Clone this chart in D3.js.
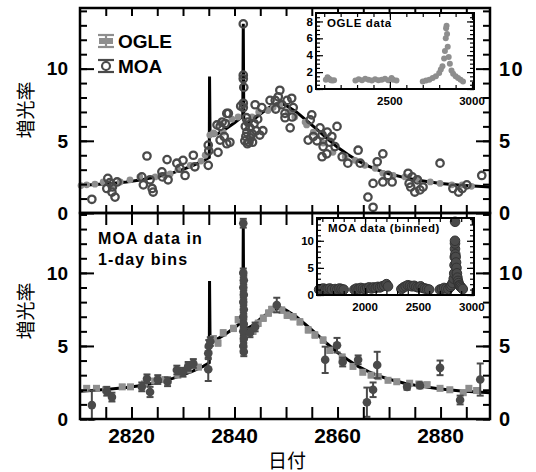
<!DOCTYPE html>
<html>
<head>
<meta charset="utf-8">
<script src="https://cdn.jsdelivr.net/npm/d3@7"></script>
<style>
  body { margin: 0; background: #fff; }
  svg text { font-family: "Liberation Sans", Arial, sans-serif; }
</style>
</head>
<body>
<div id="chart"></div>
<script>
// model light curve (day, magnification)
const model = [
  [2810, 1.9], [2813, 1.97], [2816, 2.05], [2819, 2.15], [2822, 2.3], [2825, 2.5], [2828, 2.78],
  [2830, 3.02], [2832, 3.3], [2834, 3.62], [2835.1, 3.85], [2835.15, 9.45], [2835.25, 5.4],
  [2836, 5.35], [2838, 5.75], [2840, 6.25], [2841.6, 6.7], [2841.7, 13.1], [2841.8, 6.4],
  [2842.5, 6.2], [2843.5, 6.4], [2845, 6.85], [2846.5, 7.25], [2848, 7.55], [2849, 7.6],
  [2850, 7.45], [2852, 7.0], [2854, 6.4], [2856, 5.8], [2858, 5.15], [2860, 4.55], [2862, 4.05],
  [2864, 3.6], [2866, 3.25], [2868, 2.95], [2870, 2.72], [2873, 2.45], [2876, 2.25], [2880, 2.05],
  [2884, 1.92], [2889.6, 1.8]
];

// OGLE points, upper panel [day, mag, err]
const ogleTop = [
  [2810.2, 1.9, 0.1], [2811.3, 1.95, 0.1], [2812.9, 2.0, 0.1], [2814.5, 2.15, 0.1], [2816.3, 1.9, 0.1],
  [2817.8, 2.15, 0.1], [2819.7, 2.3, 0.1], [2821.6, 2.5, 0.1], [2824.6, 2.5, 0.1], [2826.5, 2.6, 0.1],
  [2827.5, 2.7, 0.1], [2829, 3.0, 0.1], [2831.4, 3.3, 0.1], [2833.5, 3.6, 0.1], [2834.3, 4.0, 0.15],
  [2835.2, 5.4, 0.15], [2835.9, 5.55, 0.15], [2836.1, 5.5, 0.15], [2837.2, 6.2, 0.15], [2837.8, 5.6, 0.15],
  [2839.5, 6.5, 0.15], [2840.7, 6.65, 0.15], [2843.4, 6.65, 0.15], [2844.7, 7.0, 0.15], [2846.5, 7.1, 0.15],
  [2847.5, 7.3, 0.15], [2848.8, 7.5, 0.15], [2850.4, 7.0, 0.15], [2851.7, 6.65, 0.15], [2853.7, 6.3, 0.15],
  [2854, 6.1, 0.15], [2855.3, 5.6, 0.15], [2857.2, 4.85, 0.15], [2859.1, 4.2, 0.1], [2861.5, 3.9, 0.1],
  [2863.4, 3.65, 0.1], [2865.3, 3.3, 0.1], [2867.3, 3.1, 0.1], [2868.8, 2.75, 0.1], [2870.8, 2.6, 0.1],
  [2873.1, 2.5, 0.1], [2875.4, 2.4, 0.1], [2878, 2.15, 0.1], [2879.9, 2.05, 0.1], [2882.2, 1.95, 0.1],
  [2884.2, 1.95, 0.1], [2886, 1.85, 0.1]
];

// MOA points, upper panel [day, mag]
const moaTop = [
  [2812.3, 0.95], [2815.4, 2.4], [2815.2, 1.7], [2816.2, 1.45], [2816.8, 1.1], [2817.2, 2.15], [2816.3, 1.8], [2815.8, 2.1],
  [2822, 2.5], [2822.3, 1.95], [2824, 1.7], [2824.2, 1.45], [2823, 3.95], [2823.6, 2.3],
  [2825.9, 2.85], [2826.9, 3.7], [2826, 2.5], [2827.1, 2.3], [2828.8, 3.45], [2830, 3.65], [2830.4, 2.6],
  [2829.4, 3.1], [2832, 4.0], [2832.3, 3.2], [2834.9, 3.3], [2834.9, 4.7], [2835, 4.3],
  [2836.8, 4.2], [2837.2, 6.0], [2838.2, 6.2], [2838.5, 6.9], [2836.6, 6.1], [2838.5, 4.8], [2838, 5.3],
  [2837.6, 6.3], [2839.1, 4.9], [2837.2, 5.05], [2838.8, 6.9], [2841.2, 7.4],
  [2841.7, 13.1], [2841.7, 9.55], [2841.7, 9.3], [2841.8, 8.7], [2841.7, 7.6], [2841.7, 7.3],
  [2842, 5.0], [2842.2, 5.3], [2842.4, 5.6], [2842.1, 6.0], [2842.6, 6.3], [2842.3, 6.6], [2842.8, 4.9],
  [2843.1, 5.2], [2843.4, 5.5], [2843, 5.9], [2843.8, 6.2], [2844.2, 5.7], [2844.5, 6.5], [2844.9, 5.4],
  [2842.5, 4.8], [2843.5, 4.9],
  [2844, 7.5], [2845.3, 7.3], [2845.5, 5.7], [2848.8, 8.5], [2847.9, 7.8], [2850.2, 7.8], [2851.1, 7.95],
  [2849.8, 6.6], [2850.8, 5.9], [2851.4, 7.3], [2846.9, 7.8], [2848.5, 8.05], [2849.8, 6.9], [2851.2, 6.65],
  [2848, 7.2], [2849.2, 7.5],
  [2854.7, 6.45], [2855.3, 5.3], [2854.3, 5.05], [2855, 6.8], [2856.6, 5.9], [2857, 5.4], [2859.9, 6.0],
  [2858.9, 5.3], [2858.5, 4.9], [2859.5, 4.6], [2857.2, 4.6], [2857.9, 4.1], [2857, 3.9], [2860.9, 3.9],
  [2856, 5.0], [2858, 5.6],
  [2864, 4.35], [2868.8, 4.1], [2867.7, 3.55], [2864.4, 3.45], [2862, 3.45], [2866.9, 2.05], [2868.8, 2.15],
  [2865.9, 1.1], [2866.9, 0.4], [2870.6, 2.15], [2869.8, 2.6],
  [2873.7, 2.75], [2873.9, 2.05], [2875, 1.45], [2876.6, 1.8], [2874.5, 2.5], [2875.5, 2.3], [2876, 1.6], [2874.2, 1.8],
  [2879.9, 3.45], [2882.4, 1.7], [2884.2, 1.7], [2883.5, 1.45], [2885.1, 1.95], [2888, 2.6]
];

// OGLE points, lower panel [day, mag, err]
const ogleBot = [
  [2811.3, 2.1, 0.15], [2813.2, 2.1, 0.15], [2815, 2.0, 0.15], [2818.2, 2.2, 0.15], [2819.8, 2.2, 0.15],
  [2822.5, 2.4, 0.15], [2824.5, 2.6, 0.15], [2826.5, 2.7, 0.15], [2829, 3.0, 0.15], [2831, 3.35, 0.15],
  [2833, 3.55, 0.15], [2835.9, 5.5, 0.2], [2836.8, 5.2, 0.2], [2837.8, 5.9, 0.2], [2839.8, 6.2, 0.2],
  [2840.7, 6.8, 0.2], [2843.6, 6.0, 0.2], [2844.6, 6.55, 0.2], [2845.6, 6.9, 0.2], [2846.6, 7.25, 0.2],
  [2847.2, 7.5, 0.2], [2849.2, 7.45, 0.2], [2850.2, 7.1, 0.2], [2851.4, 7.0, 0.2], [2852.7, 6.65, 0.2],
  [2854.3, 6.1, 0.2], [2855.6, 5.75, 0.2], [2857.2, 5.4, 0.2], [2858.5, 4.7, 0.2], [2860.9, 4.25, 0.15],
  [2863, 3.6, 0.15], [2864.9, 3.2, 0.15], [2866.5, 3.0, 0.15], [2867.9, 2.9, 0.15], [2869.8, 2.65, 0.15],
  [2871.5, 2.55, 0.15], [2874, 2.45, 0.15], [2875.8, 2.4, 0.15], [2877.4, 2.35, 0.15], [2879.9, 2.1, 0.15],
  [2881.8, 2.0, 0.15], [2884.4, 1.8, 0.15], [2885.5, 2.1, 0.15], [2887, 1.95, 0.15]
];

// MOA 1-day bins, lower panel [day, mag, err]
const moaBot = [
  [2812.3, 0.95, 1.0], [2815.2, 1.9, 0.3], [2816.2, 1.5, 0.3], [2822, 2.2, 0.3], [2823, 2.75, 0.3],
  [2823.6, 1.85, 0.35], [2825.1, 2.7, 0.3], [2827, 2.55, 0.3], [2828.8, 3.35, 0.3], [2830, 3.2, 0.3],
  [2831, 3.6, 0.3], [2832, 3.8, 0.3], [2834.9, 3.4, 0.8], [2834.9, 4.5, 0.4], [2835, 5.0, 0.4], [2835.3, 5.3, 0.3],
  [2841.7, 13.4, 0.3], [2841.7, 10.0, 0.3], [2841.8, 9.5, 0.3], [2841.7, 9.0, 0.3], [2841.8, 8.5, 0.3],
  [2841.7, 8.0, 0.3], [2841.8, 7.5, 0.3], [2841.7, 7.0, 0.3], [2841.8, 6.5, 0.3], [2841.7, 6.0, 0.3],
  [2841.8, 5.5, 0.3], [2841.7, 5.0, 0.3], [2841.8, 4.6, 0.3],
  [2843, 5.9, 0.3], [2844, 6.3, 0.3], [2848.2, 7.8, 0.5],
  [2857.6, 4.05, 0.9], [2859.9, 5.05, 0.5], [2861, 3.9, 0.3], [2864, 4.05, 0.3], [2865.7, 1.15, 1.0],
  [2866.9, 2.0, 0.5], [2867.7, 3.7, 0.9], [2873.5, 2.2, 0.2], [2876, 2.3, 0.2], [2879.9, 3.5, 0.5],
  [2883.8, 1.3, 0.3], [2887.7, 2.7, 1.1]
];

// full-season OGLE data for the upper inset [day, mag]
const ogleAll = [
  [2110, 1.1], [2120, 1.4], [2130, 1.2], [2140, 1.05], [2150, 1.0], [2160, 1.05],
  [2290, 1.0], [2310, 1.15], [2330, 1.05], [2350, 1.2], [2370, 1.1], [2390, 1.0], [2410, 1.15],
  [2430, 1.05], [2450, 1.1], [2470, 1.2], [2490, 1.05], [2510, 1.3], [2520, 1.1], [2540, 1.0],
  [2700, 0.9], [2720, 1.0], [2740, 1.1], [2760, 1.3], [2780, 1.5], [2800, 1.9], [2810, 2.3],
  [2820, 2.7], [2830, 3.6], [2835, 4.5], [2840, 6.0], [2842, 7.2], [2845, 7.5], [2848, 6.5],
  [2852, 5.0], [2858, 3.8], [2865, 3.0], [2875, 2.2], [2885, 1.8], [2900, 1.5], [2915, 1.3],
  [2930, 1.1], [2945, 0.9]
];

// full-season binned MOA data for the lower inset [day, mag]
const moaAll = [
  [1570, 1.0], [1590, 1.1], [1610, 1.2], [1630, 1.0], [1650, 1.1], [1670, 1.2], [1690, 1.0],
  [1720, 1.1], [1740, 1.0], [1760, 1.2], [1780, 1.1], [1800, 1.0],
  [1900, 1.0], [1920, 1.2], [1940, 1.1], [1960, 1.3], [1980, 1.2], [2000, 1.1], [2020, 1.3],
  [2040, 1.4], [2060, 1.2], [2080, 1.4], [2100, 1.3], [2120, 1.5], [2140, 1.4], [2160, 1.6],
  [2180, 1.7], [2200, 2.0], [2215, 1.6],
  [2340, 1.1], [2360, 1.4], [2380, 1.6], [2400, 1.8], [2420, 1.7], [2440, 1.6], [2460, 1.7],
  [2480, 1.5], [2500, 1.4], [2520, 1.6], [2540, 1.3], [2560, 1.2], [2580, 1.1], [2600, 1.0],
  [2700, 1.0], [2720, 1.1], [2740, 1.3], [2760, 1.2], [2780, 1.1], [2800, 1.5], [2810, 1.8],
  [2820, 2.2], [2830, 3.0], [2835, 4.0], [2838, 5.5], [2840, 7.0], [2842, 8.5], [2842, 9.5],
  [2842, 10.0], [2843, 13.5], [2845, 7.5], [2848, 7.0], [2852, 6.0], [2856, 5.0], [2860, 4.0],
  [2865, 3.2], [2870, 2.6], [2876, 2.2], [2882, 1.8], [2888, 1.7], [2895, 1.5], [2905, 1.3], [2915, 1.1]
];

const xLabels = [2820, 2840, 2860, 2880];
const yLabels = [0, 5, 10];

const ogleColor = "#8e8e8e";
const moaColor = "#4a4a4a";

const svg = d3.select("#chart").append("svg")
  .attr("width", 536).attr("height", 472);
svg.append("rect").attr("width", 536).attr("height", 472).attr("fill", "#fff");

const x = d3.scaleLinear().domain([2810, 2889.6]).range([80, 490]);
const yTop = d3.scaleLinear().domain([0, 14.2]).range([213, 8]);
const yBot = d3.scaleLinear().domain([0, 14.1]).range([419, 213]);

const line = (y) => d3.line().x(d => x(d[0])).y(d => y(d[1]));

// frame + ticks on all 4 sides, ticks pointing inward
function frame(g, xs, ys, opt) {
  const [x0, x1] = xs.range();
  const [y0, y1] = ys.range(); // y0 bottom, y1 top
  const xt = d3.range(opt.xStart, opt.xEnd, opt.xStep);
  g.append("g").attr("transform", `translate(0,${y0})`)
    .call(d3.axisBottom(xs).tickValues(xt).tickSize(-opt.xTick).tickFormat(""));
  g.append("g").attr("transform", `translate(0,${y1})`)
    .call(d3.axisTop(xs).tickValues(xt).tickSize(-opt.xTick).tickFormat(""));
  const minor = d3.range(opt.yStart, opt.yEnd, opt.yMinor);
  const major = d3.range(opt.yStart, opt.yEnd, opt.yMajor);
  [[d3.axisLeft, x0], [d3.axisRight, x1]].forEach(([ax, px]) => {
    g.append("g").attr("transform", `translate(${px},0)`)
      .call(ax(ys).tickValues(minor).tickSize(-opt.yTickMinor).tickFormat(""));
    g.append("g").attr("transform", `translate(${px},0)`)
      .call(ax(ys).tickValues(major).tickSize(-opt.yTickMajor).tickFormat(""));
  });
  g.selectAll(".domain").remove();
  g.selectAll(".tick line").attr("stroke", "#000").attr("stroke-width", opt.sw);
  g.append("rect").attr("x", x0).attr("y", y1).attr("width", x1 - x0).attr("height", y0 - y1)
    .attr("fill", "none").attr("stroke", "#000").attr("stroke-width", opt.frameW);
}

function errBars(g, data, ys, color, cap, w) {
  const e = g.append("g").attr("stroke", color).attr("stroke-width", w);
  data.forEach(d => {
    e.append("line").attr("x1", x(d[0])).attr("x2", x(d[0]))
      .attr("y1", ys(d[1] - d[2])).attr("y2", ys(d[1] + d[2]));
    if (cap > 0) {
      [d[1] - d[2], d[1] + d[2]].forEach(v => e.append("line")
        .attr("x1", x(d[0]) - cap).attr("x2", x(d[0]) + cap)
        .attr("y1", ys(v)).attr("y2", ys(v)));
    }
  });
}

// ---------- upper panel ----------
const topG = svg.append("g");
topG.append("path").datum(model).attr("d", line(yTop))
  .attr("fill", "none").attr("stroke", "#000").attr("stroke-width", 3);
errBars(topG, ogleTop, yTop, ogleColor, 0, 1.5);
topG.selectAll(".ogle").data(ogleTop).enter().append("circle")
  .attr("cx", d => x(d[0])).attr("cy", d => yTop(d[1])).attr("r", 3.4).attr("fill", ogleColor);
topG.selectAll(".moa").data(moaTop).enter().append("circle")
  .attr("cx", d => x(d[0])).attr("cy", d => yTop(d[1])).attr("r", 3.7)
  .attr("fill", "none").attr("stroke", moaColor).attr("stroke-width", 2.3);

// ---------- lower panel ----------
const botG = svg.append("g");
botG.append("path").datum(model).attr("d", line(yBot))
  .attr("fill", "none").attr("stroke", "#000").attr("stroke-width", 3);
errBars(botG, ogleBot, yBot, ogleColor, 3, 1.5);
botG.selectAll(".ogle").data(ogleBot).enter().append("rect")
  .attr("x", d => x(d[0]) - 3.5).attr("y", d => yBot(d[1]) - 3.5)
  .attr("width", 7).attr("height", 7).attr("fill", ogleColor);
errBars(botG, moaBot, yBot, moaColor, 3.5, 2);
botG.selectAll(".moa").data(moaBot).enter().append("circle")
  .attr("cx", d => x(d[0])).attr("cy", d => yBot(d[1])).attr("r", 4.3).attr("fill", moaColor);

const fopt = { xStart: 2815, xEnd: 2890, xStep: 5, yStart: 0, yEnd: 14.01, yMinor: 1, yMajor: 5,
  yTickMinor: 7, yTickMajor: 14, sw: 2, frameW: 2.5 };
frame(topG, x, yTop, Object.assign({}, fopt, { xTick: 8 }));
frame(botG, x, yBot, Object.assign({}, fopt, { xTick: 12 }));

// tick labels
const lab = svg.append("g").attr("font-weight", 700).attr("fill", "#000");
[yTop, yBot].forEach(ys => {
  yLabels.forEach(v => {
    lab.append("text").attr("x", 68).attr("y", ys(v)).attr("dy", "0.36em")
      .attr("text-anchor", "end").attr("font-size", 19).text(v);
    lab.append("text").attr("x", 499).attr("y", ys(v)).attr("dy", "0.36em")
      .attr("font-size", 20).attr("letter-spacing", v >= 10 ? 1.5 : 0).text(v);
  });
});
xLabels.forEach(v => {
  lab.append("text").attr("x", x(v)).attr("y", 443)
    .attr("text-anchor", "middle").attr("font-size", 21).text(v);
});

// axis titles
const cjk = "'Noto Sans CJK JP', 'Noto Sans CJK SC', sans-serif";
[110, 311].forEach(cy => {
  svg.append("text").attr("transform", `translate(33,${cy}) rotate(-90)`)
    .attr("text-anchor", "middle").attr("font-size", 19).style("font-family", cjk).text("増光率");
});
svg.append("text").attr("x", 287).attr("y", 461).attr("dy", "0.35em").attr("text-anchor", "middle")
  .attr("font-size", 19).style("font-family", cjk).text("日付");

// legend
const leg = svg.append("g");
function legendSym(cx, cy, color, filled) {
  const s = leg.append("g").attr("stroke", color).attr("stroke-width", 2.2);
  s.append("line").attr("x1", cx - 8).attr("x2", cx + 8).attr("y1", cy - 6).attr("y2", cy - 6);
  s.append("line").attr("x1", cx - 8).attr("x2", cx + 8).attr("y1", cy + 6).attr("y2", cy + 6);
  s.append("line").attr("x1", cx).attr("x2", cx).attr("y1", cy - 6).attr("y2", cy + 6);
  if (filled) {
    s.append("rect").attr("x", cx - 7).attr("y", cy - 3).attr("width", 14).attr("height", 6)
      .attr("fill", color).attr("stroke", "none");
  } else {
    s.append("circle").attr("cx", cx).attr("cy", cy).attr("r", 4).attr("fill", "#fff");
  }
}
legendSym(106, 41, ogleColor, true);
legendSym(106, 66, moaColor, false);
leg.append("text").attr("x", 118).attr("y", 48).attr("font-size", 19).attr("font-weight", 700).text("OGLE");
leg.append("text").attr("x", 118).attr("y", 73).attr("font-size", 19).attr("font-weight", 700).text("MOA");

svg.append("text").attr("font-size", 16).attr("font-weight", 700).attr("letter-spacing", 1.1)
  .selectAll("tspan").data(["MOA data in", "1-day bins"]).enter().append("tspan")
  .attr("x", 98).attr("y", (d, i) => 244 + i * 21).text(d => d);

// ---------- insets ----------
function inset(xs, ys, data, color, opt) {
  const g = svg.append("g");
  const [x0, x1] = xs.range();
  const [y0, y1] = ys.range();
  g.append("rect").attr("x", x0).attr("y", y1).attr("width", x1 - x0).attr("height", y0 - y1).attr("fill", "#fff");
  g.selectAll("circle").data(data).enter().append("circle")
    .attr("cx", d => xs(d[0])).attr("cy", d => ys(d[1])).attr("r", opt.r)
    .attr("fill", color).attr("stroke", opt.stroke || "none").attr("stroke-width", 1);
  const xt = d3.range(opt.xStart, opt.xEnd, 100);
  const xm = xt.filter(v => v % 500 === 0);
  [[d3.axisBottom, y0], [d3.axisTop, y1]].forEach(([ax, py]) => {
    g.append("g").attr("transform", `translate(0,${py})`)
      .call(ax(xs).tickValues(xt).tickSize(-4).tickFormat(""));
    g.append("g").attr("transform", `translate(0,${py})`)
      .call(ax(xs).tickValues(xm).tickSize(-7).tickFormat(""));
  });
  const ymin = d3.range(0, opt.yEnd, opt.yMinor);
  const ymaj = d3.range(0, opt.yEnd, opt.yMajor);
  [[d3.axisLeft, x0], [d3.axisRight, x1]].forEach(([ax, px]) => {
    g.append("g").attr("transform", `translate(${px},0)`)
      .call(ax(ys).tickValues(ymin).tickSize(-4).tickFormat(""));
    g.append("g").attr("transform", `translate(${px},0)`)
      .call(ax(ys).tickValues(ymaj).tickSize(-7).tickFormat(""));
  });
  g.selectAll(".domain").remove();
  g.selectAll(".tick line").attr("stroke", "#000").attr("stroke-width", 1.2);
  g.append("rect").attr("x", x0).attr("y", y1).attr("width", x1 - x0).attr("height", y0 - y1)
    .attr("fill", "none").attr("stroke", "#000").attr("stroke-width", 2);
  const t = g.append("g").attr("font-weight", 700).attr("font-size", 11.5);
  opt.yLab.forEach(v => t.append("text").attr("x", x0 - 3).attr("y", ys(v)).attr("dy", "0.36em")
    .attr("text-anchor", "end").text(v));
  opt.xLab.forEach(v => t.append("text").attr("x", xs(v)).attr("y", y0 + 16)
    .attr("text-anchor", "middle").text(v));
  t.append("text").attr("x", x0 + 11).attr("y", y1 + 14).attr("font-size", 11.5)
    .attr("letter-spacing", 0.6).text(opt.title);
}

const xi1 = d3.scaleLinear().domain([2050, 3012]).range([316, 474]);
const yi1 = d3.scaleLinear().domain([0, 9]).range([89, 13]);
inset(xi1, yi1, ogleAll, ogleColor, { r: 3, xStart: 2100, xEnd: 3012, yEnd: 9, yMinor: 0.5, yMajor: 2,
  yLab: [0, 2, 4, 6, 8], xLab: [2500, 3000], title: "OGLE data" });

const xi2 = d3.scaleLinear().domain([1550, 3020]).range([317, 474]);
const yi2 = d3.scaleLinear().domain([0, 14.2]).range([295, 218]);
inset(xi2, yi2, moaAll, moaColor, { r: 4.8, stroke: "#333", xStart: 1600, xEnd: 3020, yEnd: 14.1, yMinor: 1, yMajor: 5,
  yLab: [0, 5, 10], xLab: [2000, 2500, 3000], title: "MOA data (binned)" });
</script>
</body>
</html>
